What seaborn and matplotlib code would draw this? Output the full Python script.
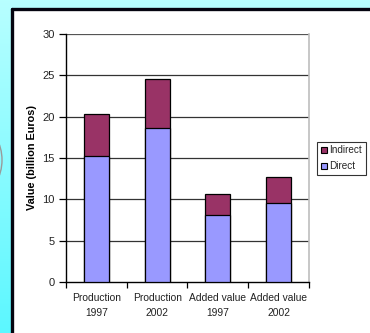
import numpy as np
import pandas as pd
import matplotlib
matplotlib.use("Agg")
import matplotlib.pyplot as plt
from matplotlib.patches import Rectangle, Ellipse, Patch
from matplotlib.lines import Line2D
import seaborn as sns

# Chart data
categories = ["Production\n1997", "Production\n2002", "Added value\n1997", "Added value\n2002"]
direct = [15.3, 18.6, 8.1, 9.6]
indirect = [5.0, 6.0, 2.55, 3.05]
y_ticks = [0, 5, 10, 15, 20, 25, 30]

df = pd.DataFrame({"category": categories, "Direct": direct, "Indirect": indirect})
df["Total"] = df["Direct"] + df["Indirect"]

sns.set_theme(style="white")
plt.rcParams["font.family"] = ["Liberation Sans", "DejaVu Sans"]

W, H = 370, 333
fig = plt.figure(figsize=(W / 100, H / 100), dpi=100)

# Slide-like cyan gradient background
bg = fig.add_axes([0, 0, 1, 1], zorder=-10)
top = np.array([0.72, 1.0, 1.0])
bot = np.array([0.36, 0.97, 1.0])
t = np.linspace(0, 1, 200)[:, None]
grad = (top * (1 - t) + bot * t)[:, None, :] * np.ones((1, 10, 1))
bg.imshow(grad, aspect="auto", extent=[0, 1, 0, 1])
bg.set_xlim(0, 1)
bg.set_ylim(0, 1)
bg.axis("off")

# White panel with dark frame on the left and top
px, py = 12 / W, 1 - 9 / H
bg.add_patch(Rectangle((px, 0), 1 - px, py, facecolor="white", edgecolor="none", zorder=2))
bg.add_line(Line2D([px, px], [0, py], color="#050510", lw=2.4, zorder=3))
bg.add_line(Line2D([px, 1], [py, py], color="#050510", lw=2.4, zorder=3))
# Partial oval peeking in from the left edge
bg.add_patch(Ellipse((-18 / W, 1 - 160 / H), 40 / W, 62 / H, facecolor="none",
                     edgecolor="#9a9a9a", lw=1.0, zorder=1))

ax = fig.add_axes([66 / W, 1 - 282 / H, (309 - 66) / W, (282 - 34) / H])
ax.set_facecolor("none")

sns.barplot(data=df, x="category", y="Total", color="#993366", width=0.41,
            edgecolor="black", linewidth=0.9, saturation=1, ax=ax, zorder=3)
sns.barplot(data=df, x="category", y="Direct", color="#9999FF", width=0.41,
            edgecolor="black", linewidth=0.9, saturation=1, ax=ax, zorder=4)

ax.set_ylim(0, 30)
ax.set_xlim(-0.5, 3.5)
ax.set_yticks(y_ticks)
ax.set_yticklabels([str(v) for v in y_ticks], fontsize=8, color="#222222")
for v in y_ticks[1:]:
    ax.axhline(v, color="#333333" if v < 30 else "#555555", lw=0.9, zorder=1)

# Category boundaries carry the tick marks; labels sit at the bar centres
ax.set_xticks(np.arange(-0.5, 4.0, 1.0))
ax.set_xticklabels([])
ax.set_xticks(np.arange(4), minor=True)
ax.set_xticklabels(categories, minor=True, fontsize=7.4, color="#222222", linespacing=1.6)
ax.tick_params(axis="x", which="major", direction="out", length=4, width=0.9, color="black", bottom=True)
ax.tick_params(axis="x", which="minor", length=0, pad=8)
ax.tick_params(axis="y", direction="out", length=5, width=0.9, color="black", left=True, pad=3)

ax.set_xlabel("")
ax.set_ylabel("Value (billion Euros)", fontsize=7.8, fontweight="bold", labelpad=4, color="black")

for s in ["left", "bottom"]:
    ax.spines[s].set_visible(True)
    ax.spines[s].set_color("black")
    ax.spines[s].set_linewidth(1.0)
ax.spines["top"].set_visible(False)
ax.spines["right"].set_visible(True)
ax.spines["right"].set_color("#bdbdbd")
ax.spines["right"].set_linewidth(1.2)

handles = [Patch(facecolor="#993366", edgecolor="black", lw=0.8, label="Indirect"),
           Patch(facecolor="#9999FF", edgecolor="black", lw=0.8, label="Direct")]
leg = fig.legend(handles=handles, loc="upper left", bbox_to_anchor=(317 / W, 1 - 142 / H),
                 frameon=True, fancybox=False, edgecolor="black", fontsize=7.2,
                 handlelength=0.6, handleheight=0.6, handletextpad=0.3,
                 borderpad=0.35, labelspacing=0.6, borderaxespad=0)
leg.get_frame().set_linewidth(0.8)

fig.savefig("out.png", dpi=100)
